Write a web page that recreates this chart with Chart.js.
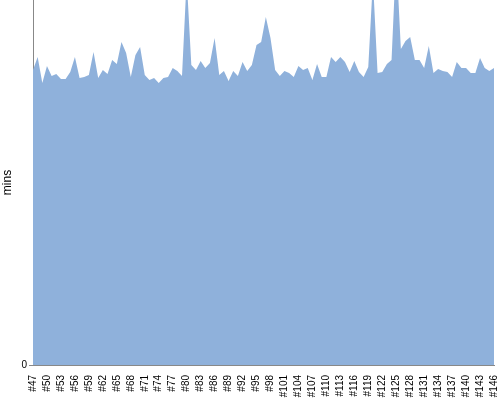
<!DOCTYPE html>
<html>
<head>
<meta charset="utf-8">
<script src="https://cdn.jsdelivr.net/npm/chart.js@4.4.1/dist/chart.umd.min.js"></script>
<style>
  html, body { margin: 0; padding: 0; background: #fff; }
  #wrap { width: 500px; height: 400px; position: relative; }
</style>
</head>
<body>
<div id="wrap"><canvas id="chart"></canvas></div>
<script>
// build numbers #47 .. #146
const builds = [];
for (let n = 47; n <= 146; n++) builds.push('#' + n);

// duration per build (mins)
const durations = [
  29.5, 30.8, 28.2, 29.9, 28.9, 29.1, 28.6, 28.6, 29.3, 30.8,
  28.7, 28.8, 29.0, 31.3, 28.7, 29.5, 29.1, 30.5, 30.1, 32.3,
  31.2, 28.8, 31.0, 31.8, 29.0, 28.5, 28.7, 28.2, 28.7, 28.8,
  29.7, 29.4, 28.9, 38.6, 30.0, 29.5, 30.4, 29.7, 30.2, 32.7,
  29.0, 29.4, 28.4, 29.4, 28.9, 30.3, 29.4, 30.0, 32.0, 32.3,
  34.8, 32.7, 29.5, 28.9, 29.4, 29.2, 28.8, 29.9, 29.5, 29.7,
  28.5, 30.1, 28.8, 28.8, 30.8, 30.3, 30.8, 30.3, 29.3, 30.4,
  29.3, 28.8, 29.8, 38.5, 29.2, 29.3, 30.1, 30.5, 41.0, 31.6,
  32.4, 32.8, 30.5, 30.5, 29.7, 31.9, 29.2, 29.6, 29.4, 29.3,
  28.8, 30.3, 29.7, 29.7, 29.2, 29.2, 30.7, 29.7, 29.4, 29.7
];

const yTicks = [0];
const yMax = 36.5;

const font = { family: '"Liberation Sans", Arial, sans-serif', size: 10 };

new Chart(document.getElementById('chart'), {
  type: 'line',
  data: {
    labels: builds,
    datasets: [{
      data: durations,
      fill: 'origin',
      backgroundColor: 'rgb(143,177,219)',
      borderColor: 'rgb(143,177,219)',
      borderWidth: 0,
      pointRadius: 0,
      tension: 0,
    }],
  },
  options: {
    responsive: true,
    maintainAspectRatio: false,
    animation: false,
    layout: { padding: { top: 0, right: 6, left: 0, bottom: 0 } },
    plugins: { legend: { display: false }, tooltip: { enabled: false } },
    scales: {
      x: {
        grid: { display: false },
        border: { display: true, color: '#888' },
        ticks: {
          autoSkip: false,
          minRotation: 90,
          maxRotation: 90,
          color: '#000',
          font,
          padding: 2,
          callback(v, i) { return i % 3 === 0 ? builds[i] : null; },
        },
        afterFit(scale) {
          scale.height = 35;
          scale.paddingLeft = 0;
          scale.paddingRight = 0;
        },
      },
      y: {
        min: 0,
        max: yMax,
        afterBuildTicks(axis) { axis.ticks = yTicks.map(v => ({ value: v })); },
        grid: { drawOnChartArea: false, drawTicks: true, tickLength: 4, color: '#888' },
        border: { display: true, color: '#888' },
        ticks: { color: '#000', font, padding: 2 },
        title: { display: true, text: 'mins', color: '#000', font: { ...font, size: 12 }, padding: 0 },
        afterFit(scale) {
          scale.width = 33;
          scale.paddingTop = 0;
          scale.paddingBottom = 0;
        },
      },
    },
  },
});
</script>
</body>
</html>
